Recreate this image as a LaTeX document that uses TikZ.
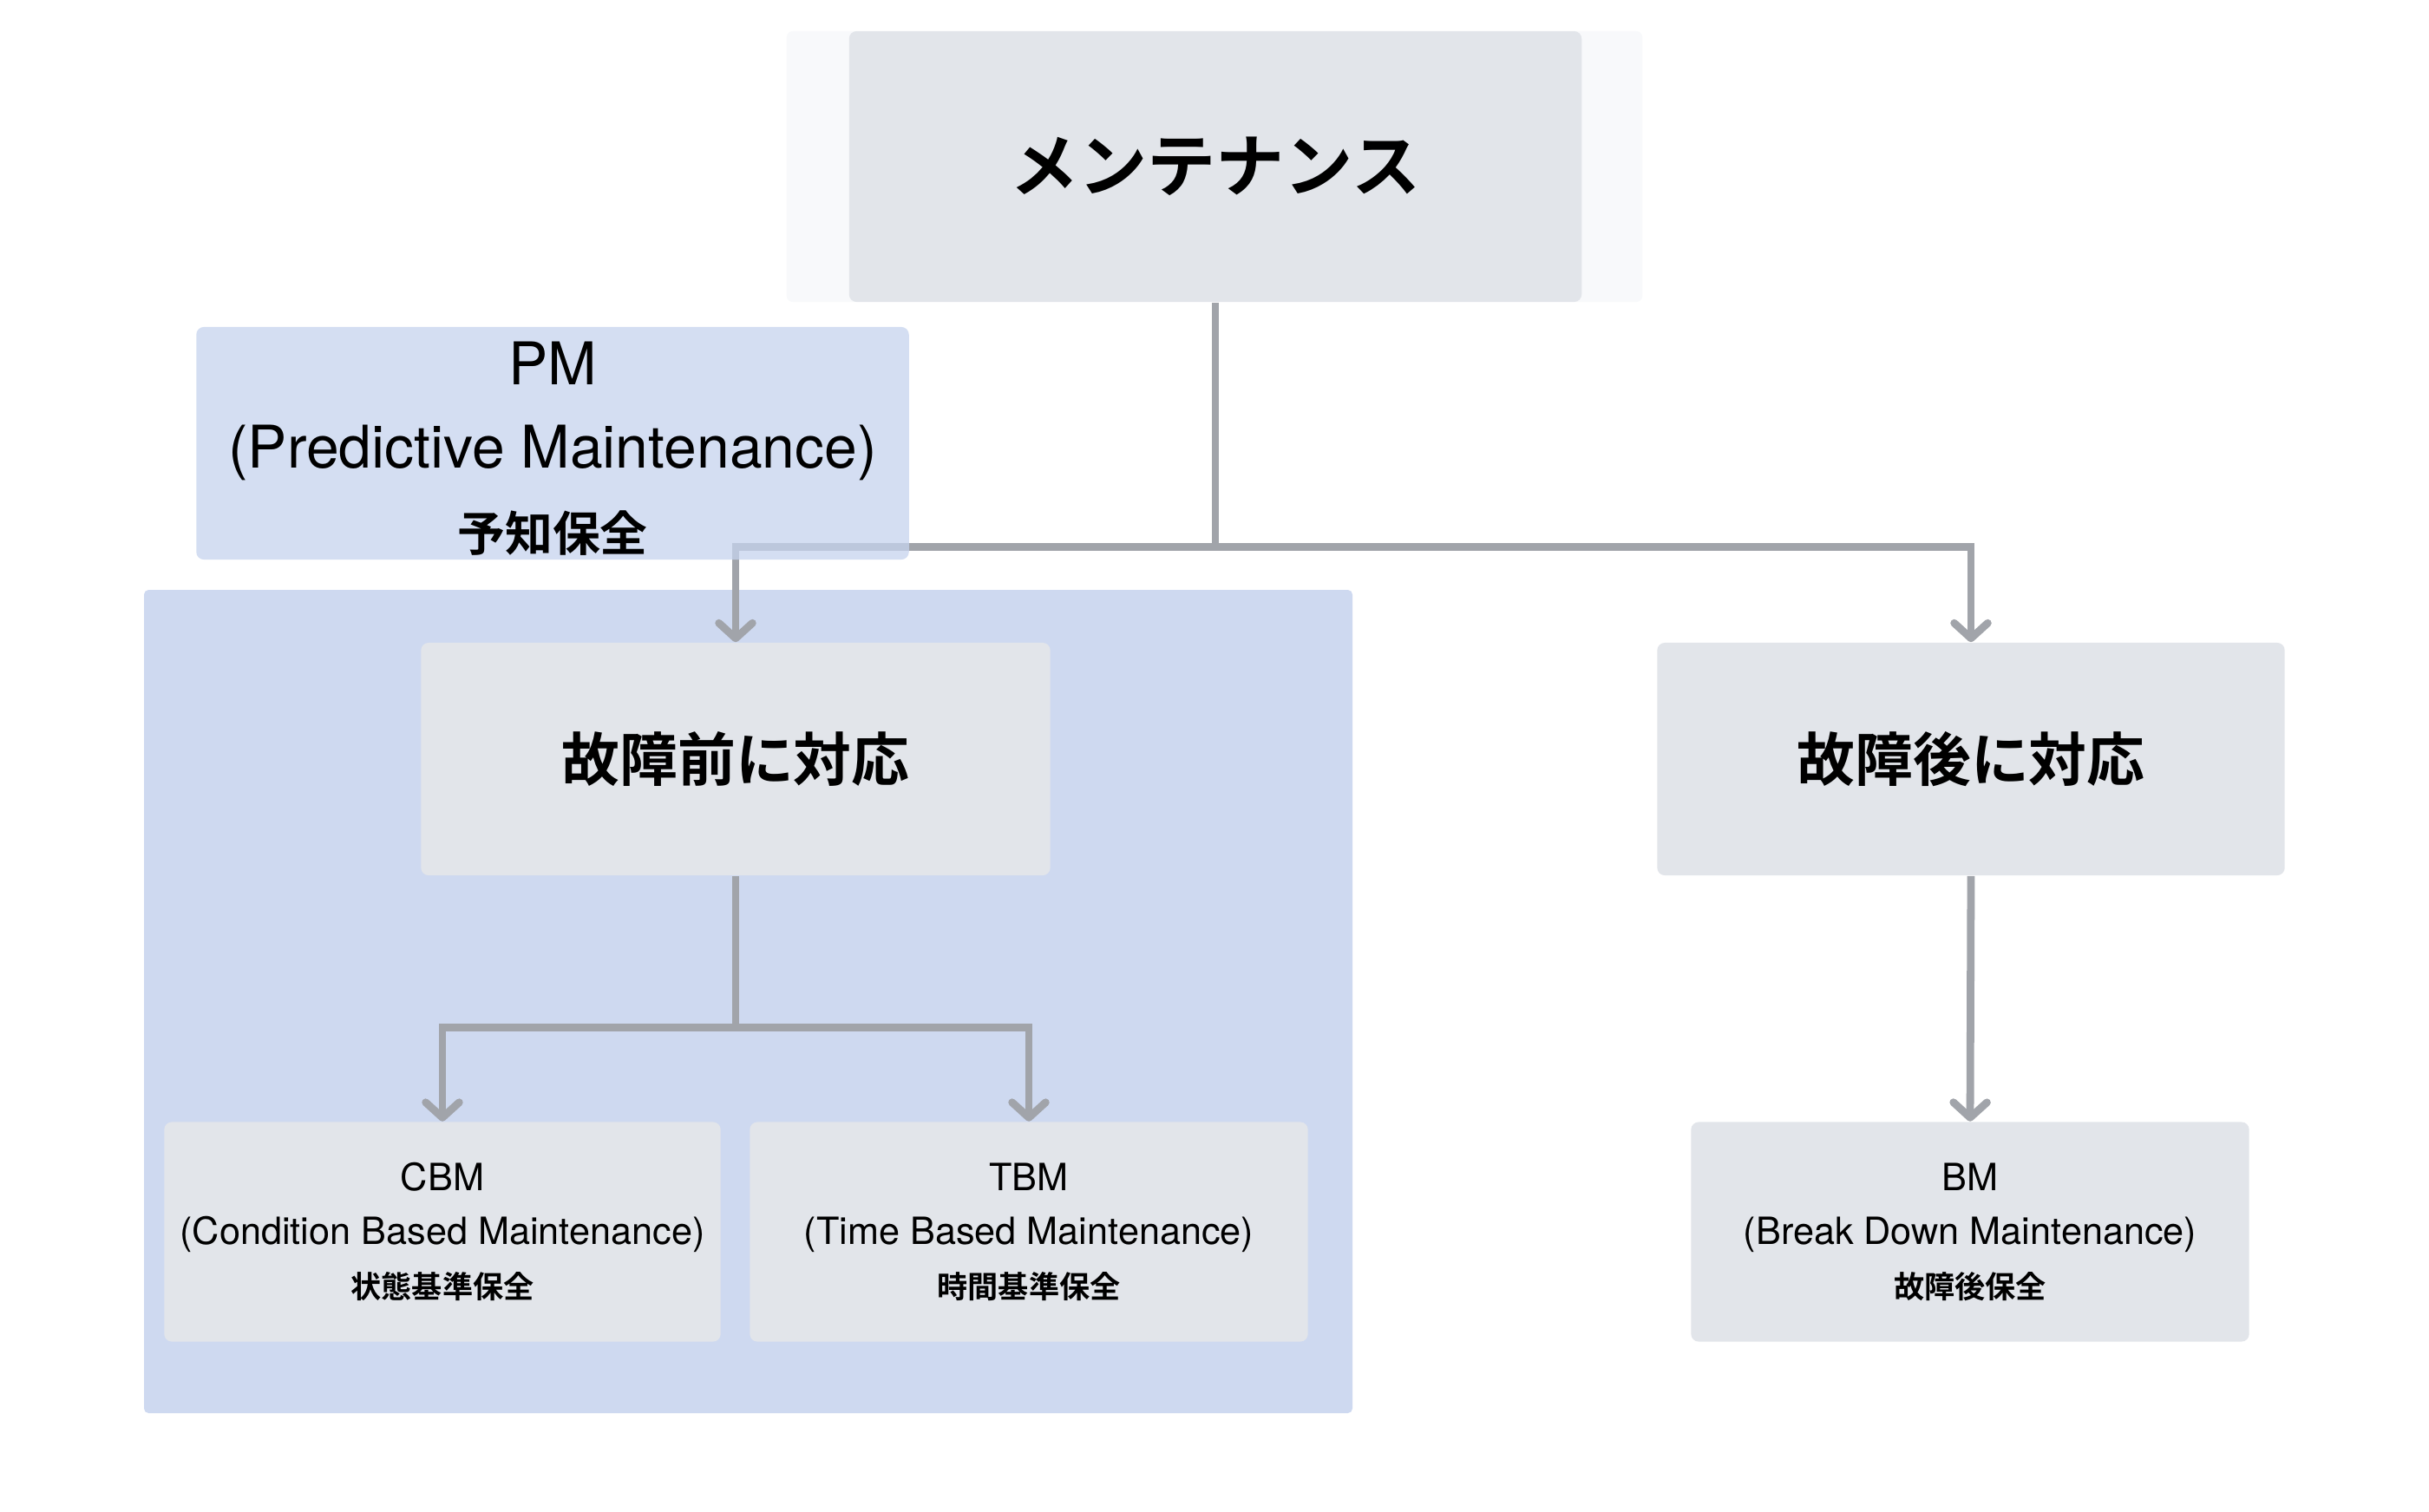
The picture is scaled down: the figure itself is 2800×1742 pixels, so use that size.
\documentclass[tikz,border=0pt]{standalone}
\usepackage{fontspec}
\setmainfont{TeX Gyre Heros}
\newfontfamily\jp{Noto Sans CJK JP}[BoldFont={Noto Sans CJK JP Bold}]
\usetikzlibrary{arrows.meta}
\definecolor{boxgray}{RGB}{226,229,234}
\definecolor{bglight}{RGB}{248,249,251}
\definecolor{groupblue}{RGB}{206,217,240}
\definecolor{pmblue}{RGB}{198,211,237}
\definecolor{linegray}{RGB}{161,164,170}

\begin{document}
\begin{tikzpicture}
	[x=0.01cm,y=-0.01cm,
	box/.style={rectangle,rounded corners=2.5pt,fill=boxgray,inner sep=0pt,align=center},
	bigtext/.style={font=\jp\bfseries\fontsize{22.5}{26}\selectfont},
	midtext/.style={font=\jp\bfseries\fontsize{19}{23}\selectfont},
	smalltext/.style={font=\fontsize{12.3}{17.6}\selectfont},
	conn/.style={draw=linegray,line width=2.5pt},
	arr/.style={conn,-{Straight Barb[length=5pt,width=11pt,round]}}]
    \useasboundingbox (0,0) rectangle (2800,1742);
    \node[rectangle,rounded corners=2pt,fill=bglight,minimum width=9.86cm,minimum height=3.12cm] at (1400,192) (mainbg) {};
    \fill[groupblue,rounded corners=1.5pt] (166,680) rectangle (1559,1629);
    \node[box,bigtext,minimum width=8.44cm,minimum height=3.12cm] at (1401,192) (main) {メンテナンス};
    \node[box,midtext,minimum width=7.25cm,minimum height=2.68cm] at (848,875) (pre) {故障前に対応};
    \node[box,midtext,minimum width=7.23cm,minimum height=2.68cm] at (2272,875) (post) {故障後に対応};
    \node[box,smalltext,minimum width=6.41cm,minimum height=2.53cm] at (510,1420) (cbm)
        {CBM\\(Condition Based Maintenance)\\{\jp\bfseries\fontsize{10}{17.6}\selectfont 状態基準保全}};
    \node[box,smalltext,minimum width=6.43cm,minimum height=2.53cm] at (1186,1420) (tbm)
        {TBM\\(Time Based Maintenance)\\{\jp\bfseries\fontsize{10}{17.6}\selectfont 時間基準保全}};
    \node[box,smalltext,minimum width=6.43cm,minimum height=2.53cm] at (2271,1420) (bm)
        {BM\\(Break Down Maintenance)\\{\jp\bfseries\fontsize{10}{17.6}\selectfont 故障後保全}};
    % connectors
    \draw[conn] (main.south) -- ++(0,282) coordinate (split);
    \draw[arr] (split) -| (pre.north);
    \draw[arr] (split) -| (post.north);
    \draw[conn] (pre.south) -- ++(0,175) coordinate (fork);
    \draw[arr] (fork) -| (cbm.north);
    \draw[arr] (fork) -| (tbm.north);
    \draw[arr] (post.south) -- (bm.north);
    % PM label box over the lines
    \node[box,fill=pmblue,fill opacity=0.75,text opacity=1,font=\fontsize{19.3}{27.3}\selectfont,
        minimum width=8.21cm,minimum height=2.68cm] at (637,511) (pm)
        {\rule{0pt}{0.9em}PM\\(Predictive Maintenance)\\{\jp\bfseries\fontsize{15.6}{27.3}\selectfont 予知保全}};
\end{tikzpicture}
\end{document}
